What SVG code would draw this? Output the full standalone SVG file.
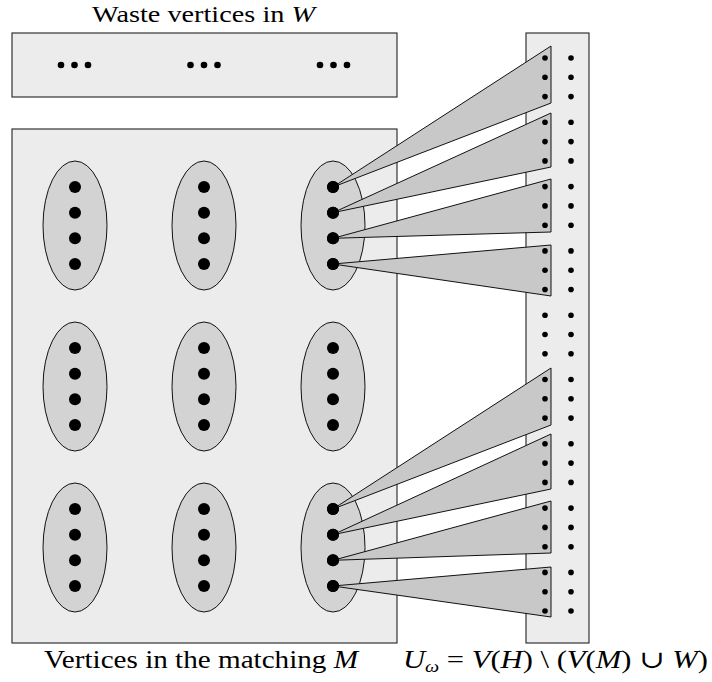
<svg xmlns="http://www.w3.org/2000/svg" xmlns:xlink="http://www.w3.org/1999/xlink" width="712" height="682" viewBox="0 0 712 682">
<style>
.box{fill:#ececec;stroke:#222;stroke-width:1.1}
.ell{fill:#d3d3d3;stroke:#111;stroke-width:1}
.tri{fill:#c8c8c8;stroke:#111;stroke-width:1;stroke-linejoin:miter}
.big{fill:#000}
.sm{fill:#000}
.lbl{font-family:"Liberation Serif","DejaVu Serif",serif;font-size:24.5px;fill:#000}
.it{font-style:italic}
</style>
<defs>
<g id="quad">
<circle class="big" cx="0" cy="-38.5" r="6"/>
<circle class="big" cx="0" cy="-12.8" r="6"/>
<circle class="big" cx="0" cy="12.8" r="6"/>
<circle class="big" cx="0" cy="38.5" r="6"/>
</g>
<g id="grp">
<ellipse class="ell" cx="0" cy="0" rx="32" ry="64.5"/>
<use xlink:href="#quad"/>
</g>
<g id="trip">
<circle class="sm" cx="545" cy="0" r="2.8"/>
<circle class="sm" cx="571" cy="0" r="2.8"/>
<circle class="sm" cx="545" cy="19.3" r="2.8"/>
<circle class="sm" cx="571" cy="19.3" r="2.8"/>
<circle class="sm" cx="545" cy="38.6" r="2.8"/>
<circle class="sm" cx="571" cy="38.6" r="2.8"/>
</g>
</defs>

<g id="waste">
<text class="lbl" x="92" y="21.5" font-size="23" style="font-size:23px" textLength="223" lengthAdjust="spacingAndGlyphs">Waste vertices in <tspan class="it">W</tspan></text>
<rect class="box" x="12" y="33" width="385" height="64"/>
<g class="sm">
<circle cx="61" cy="65" r="3.3"/><circle cx="74.5" cy="65" r="3.3"/><circle cx="88" cy="65" r="3.3"/>
<circle cx="190.5" cy="65" r="3.3"/><circle cx="204" cy="65" r="3.3"/><circle cx="217.5" cy="65" r="3.3"/>
<circle cx="320" cy="65" r="3.3"/><circle cx="333.5" cy="65" r="3.3"/><circle cx="347" cy="65" r="3.3"/>
</g>
</g>

<g id="matching">
<rect class="box" x="12" y="129" width="385" height="514"/>
<text class="lbl" x="44" y="668" textLength="314" lengthAdjust="spacingAndGlyphs">Vertices in the matching <tspan class="it">M</tspan></text>
</g>

<g id="U">
<rect class="box" x="526" y="33" width="63" height="610"/>
<text class="lbl" x="403" y="668" textLength="305" lengthAdjust="spacingAndGlyphs"><tspan class="it">U</tspan><tspan class="it" font-size="16" dy="4">ω</tspan><tspan dy="-4"> = </tspan><tspan class="it">V</tspan>(<tspan class="it">H</tspan>) \ (<tspan class="it">V</tspan>(<tspan class="it">M</tspan>) ∪ <tspan class="it">W</tspan>)</text>
</g>

<g id="m11"><use xlink:href="#grp" x="75" y="225.5"/></g>
<g id="m12"><use xlink:href="#grp" x="204" y="225.5"/></g>
<g id="m13"><use xlink:href="#grp" x="333" y="225.5"/></g>
<g id="m21"><use xlink:href="#grp" x="75" y="386.5"/></g>
<g id="m22"><use xlink:href="#grp" x="204" y="386.5"/></g>
<g id="m23"><use xlink:href="#grp" x="333" y="386.5"/></g>
<g id="m31"><use xlink:href="#grp" x="75" y="547.5"/></g>
<g id="m32"><use xlink:href="#grp" x="204" y="547.5"/></g>
<g id="m33"><use xlink:href="#grp" x="333" y="547.5"/></g>

<g id="connectors">
<polygon class="tri" points="333,187 551,46 551,103"/>
<polygon class="tri" points="333,212.7 551,113 551,167"/>
<polygon class="tri" points="333,238.3 551,179 551,232"/>
<polygon class="tri" points="333,264 551,245 551,296"/>
<polygon class="tri" points="333,509 551,368 551,425"/>
<polygon class="tri" points="333,534.7 551,434 551,489"/>
<polygon class="tri" points="333,560.3 551,501 551,553"/>
<polygon class="tri" points="333,586 551,567 551,617"/>
<use xlink:href="#quad" x="333" y="225.5"/>
<use xlink:href="#quad" x="333" y="547.5"/>
</g>

<g id="U-vertices">
<use xlink:href="#trip" y="58"/>
<use xlink:href="#trip" y="122.3"/>
<use xlink:href="#trip" y="186.6"/>
<use xlink:href="#trip" y="250.9"/>
<use xlink:href="#trip" y="315.2"/>
<use xlink:href="#trip" y="379.5"/>
<use xlink:href="#trip" y="443.8"/>
<use xlink:href="#trip" y="508.1"/>
<use xlink:href="#trip" y="572.4"/>
</g>
</svg>
